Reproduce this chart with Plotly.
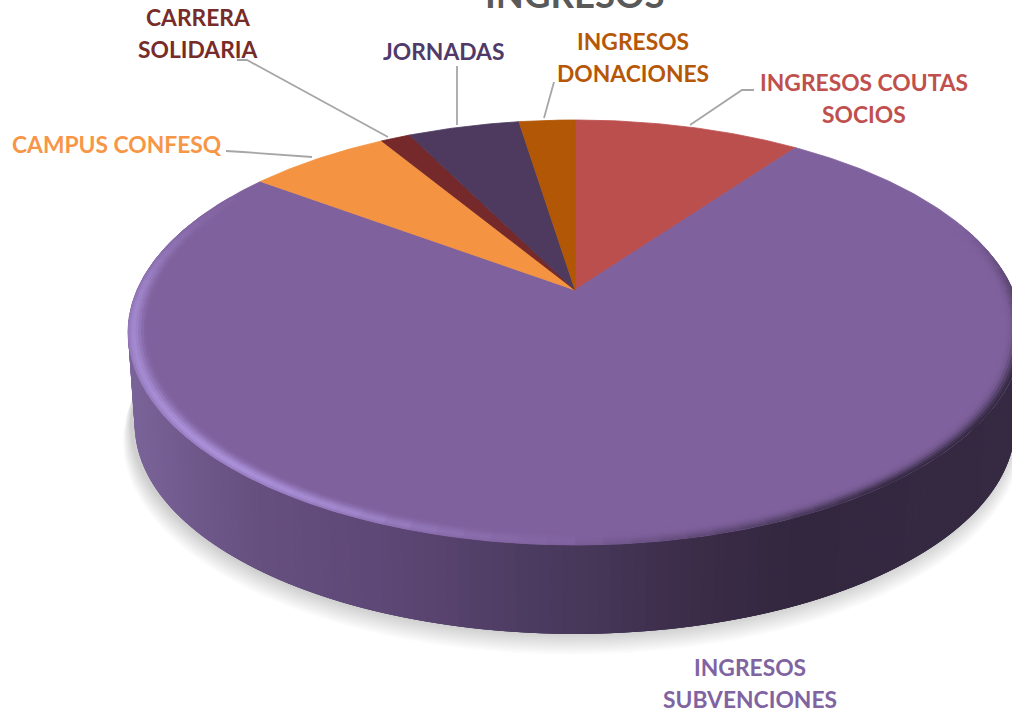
import numpy as np
import plotly.graph_objects as go

# ---- data (clockwise from 12 o'clock) ----
categories = ["INGRESOS COUTAS<br>SOCIOS", "INGRESOS<br>SUBVENCIONES", "CAMPUS CONFESQ",
              "CARRERA<br>SOLIDARIA", "JORNADAS", "INGRESOS<br>DONACIONES"]
values = [9.95, 75.2, 6.2, 1.3, 4.9, 2.45]
slice_colors = ["#BB4F4E", "#7F619D", "#F49443", "#75292A", "#4D3A5E", "#B15706"]
label_colors = ["#C0504D", "#8064A2", "#F79646", "#772C2A", "#4F3A69", "#B65708"]
label_x = [864, 750, 117, 198, 443, 633]
label_y = [98, 682.5, 144, 33, 51, 56.5]
leader_x = [[690, 742, 754], [], [226, 243, 312], [237, 247, 388], [457, 457], [554, 544]]
leader_y = [[125, 90, 90], [], [151, 152, 157], [60, 60, 137], [66, 125], [82, 118]]
title = "INGRESOS"

# ---- perspective of the pie disc ----
CX, CY, A, B, P = 575.0, 290.0, 438.0, 204.0, 0.2
DEPTH, BOT_SCALE = 92.8, 0.985


def top(theta, r=1.0):
    """theta: degrees clockwise from 12 o'clock, r: fraction of radius."""
    t = np.radians(theta)
    u, v = r * np.sin(t), r * np.cos(t)
    d = 1 + P * v
    return CX + A * u / d, CY - B * v / d


def bottom(theta, dx=0.0, dy=0.0, s=1.0):
    x, y = top(theta)
    return CX + (x - CX) * BOT_SCALE * s + dx, CY + (y - CY) * BOT_SCALE * s + DEPTH + dy


def hex2rgb(h):
    return np.array([int(h[i:i + 2], 16) for i in (1, 3, 5)], float)


def fmt(c):
    return "rgb(%d,%d,%d)" % tuple(np.round(c))


def poly(x, y, color, line=False):
    return go.Scatter(x=list(x), y=list(y), mode="lines", fill="toself", fillcolor=color,
                      line=dict(color=color, width=0.8) if line else dict(width=0),
                      hoverinfo="skip", showlegend=False)


fig = go.Figure()

# shadow
full = np.linspace(0, 360, 181)
for i in range(12):
    k = 22 - i * 1.7
    x, y = bottom(full, dx=-3, dy=k * 0.85 - 3, s=1 + k * 0.0009)
    fig.add_trace(poly(x, y, "rgba(0,0,0,0.014)"))

# side wall: colour follows the horizontal position; painted right to left with overlap
stops_x = [125, 250, 400, 550, 700, 800, 1020]
stops_c = [hex2rgb(c) for c in ["#7A6499", "#665080", "#5C4674", "#4A3A5E", "#3B2C48", "#32273F", "#352A42"]]
wall = np.linspace(70, 290, 177)
step = wall[1] - wall[0]
for a0 in wall[:-1]:
    th = np.array([a0, a0 + step, a0 + 3 * step])
    th = th[th <= 290 + 1e-6] if a0 + 3 * step > 290 else th
    tx, ty = top(th)
    bx, by = bottom(th)
    xm = top(a0 + step / 2)[0]
    rgb = [np.interp(xm, stops_x, [c[k] for c in stops_c]) for k in range(3)]
    fig.add_trace(poly(list(tx) + list(bx[::-1]), list(ty) + list(by[::-1]), fmt(rgb)))

# top face wedges
edges = np.concatenate([[0], np.cumsum(values)]) / sum(values) * 360
for a0, a1, col in zip(edges[:-1], edges[1:], slice_colors):
    th = np.linspace(a0, a1, max(3, int(a1 - a0) * 2))
    x, y = top(th)
    fig.add_trace(poly([CX] + list(x) + [CX], [CY] + list(y) + [CY], col, line=True))

# bevel along the front rim of the large wedge
base = hex2rgb(slice_colors[1])
light = hex2rgb("#AC93DC")
dark = hex2rgb("#352A42")
rings = np.array([0.960, 0.966, 0.972, 0.978, 0.984, 0.990, 0.995, 1.0])
light_prof = [0.08, 0.28, 0.55, 0.82, 1.0, 0.9, 0.65]
dark_prof = [0.0, 0.04, 0.12, 0.3, 0.55, 0.8, 0.97]
seg = np.linspace(72, 300, 77)
dseg = seg[1] - seg[0]
for a0 in seg[:-1]:
    m = a0 + dseg / 2
    L = (np.exp(-((m - 225) / 40) ** 2) * 0.95 + 0.4 * np.exp(-((m - 268) / 20) ** 2)) * np.clip((m - 175) / 30, 0, 1)
    D = np.clip((182 - m) / 38, 0, 1) * np.clip((m - 72) / 35, 0, 1)
    if L < 0.01 and D < 0.01:
        continue
    th = np.array([a0, a0 + dseg, min(a0 + 2 * dseg, 300)])
    for j in range(7):
        xo, yo = top(th, rings[j + 1] if j == 6 else rings[j + 1] + 0.003)
        xi, yi = top(th, rings[j])
        col = base + (light - base) * min(L, 1) * light_prof[j] + (dark - base) * D * dark_prof[j]
        fig.add_trace(poly(list(xo) + list(xi[::-1]), list(yo) + list(yi[::-1]), fmt(col)))

# leader lines
for lx, ly in zip(leader_x, leader_y):
    if lx:
        fig.add_trace(go.Scatter(x=lx, y=ly, mode="lines", line=dict(color="#A6A6A6", width=1.8),
                                 hoverinfo="skip", showlegend=False))

# labels, one annotation per line to hold the original line pitch
LINE = 32
for name, x, y, c in zip(categories, label_x, label_y, label_colors):
    parts = name.split("<br>")
    for i, part in enumerate(parts):
        fig.add_annotation(x=x, y=y + (i - (len(parts) - 1) / 2) * LINE, text="<b>%s</b>" % part,
                           showarrow=False, xanchor="center", yanchor="middle",
                           font=dict(family="Lato", size=22.8, color=c))
fig.add_annotation(x=574, xref="x", y=1.0085, yref="paper", text="<b>%s</b>" % title, showarrow=False,
                   xanchor="center", yanchor="middle",
                   font=dict(family="Lato", size=36.5, color="#595959"))

fig.update_layout(width=1012, height=716, margin=dict(l=0, r=0, t=0, b=0),
                  paper_bgcolor="white", plot_bgcolor="white", showlegend=False,
                  xaxis=dict(range=[0, 1012], visible=False, fixedrange=True),
                  yaxis=dict(range=[716, 0], visible=False, fixedrange=True))
fig.write_html("out.html", config=dict(displayModeBar=False),
               post_script="document.body.style.margin='0';")
